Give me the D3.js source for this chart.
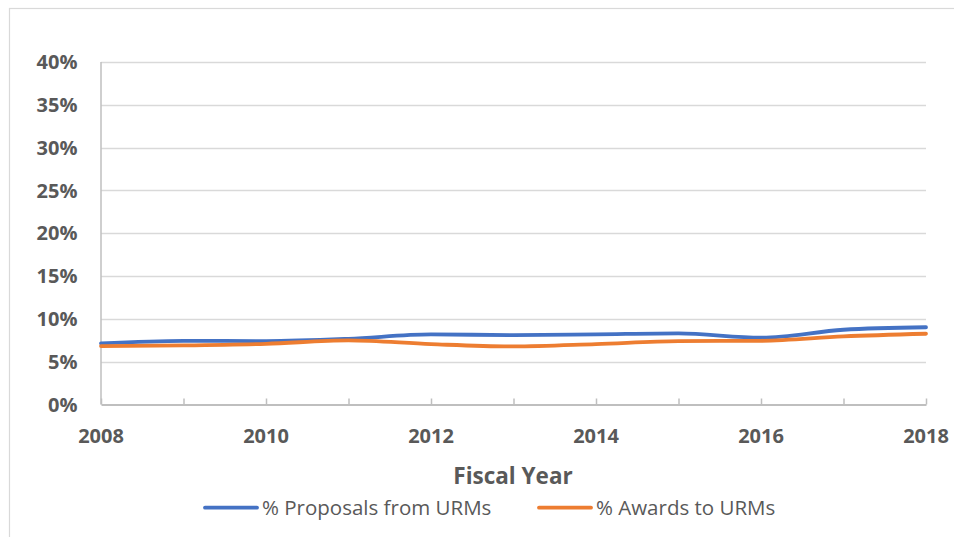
<!DOCTYPE html>
<html>
<head>
<meta charset="utf-8">
<script src="https://cdn.jsdelivr.net/npm/d3@7"></script>
<style>
  html, body { margin: 0; padding: 0; background: #fff; }
  svg { display: block; }
  text { font-family: "Open Sans", "Liberation Sans", sans-serif; }
</style>
</head>
<body>
<svg id="chart" width="954" height="537"></svg>
<script>
// Fiscal years on the x axis
const years = [2008, 2009, 2010, 2011, 2012, 2013, 2014, 2015, 2016, 2017, 2018];
// Share of proposals submitted by under-represented minorities (%)
const proposalsPct = [7.13, 7.44, 7.40, 7.67, 8.19, 8.10, 8.19, 8.30, 7.80, 8.73, 9.02];
// Share of awards made to under-represented minorities (%)
const awardsPct = [6.82, 6.90, 7.09, 7.48, 7.05, 6.78, 7.05, 7.40, 7.44, 7.95, 8.26];
// Axis ticks
const yTicks = [0, 5, 10, 15, 20, 25, 30, 35, 40];
const xTickLabels = [2008, 2010, 2012, 2014, 2016, 2018];
const seriesNames = ["% Proposals from URMs", "% Awards to URMs"];
const seriesColors = ["#4472C4", "#ED7D31"];

const svg = d3.select("#chart");
const plotLeft = 101, plotRight = 926, plotTop = 62, plotBottom = 404.5;
const labelColor = "#595959";

const x = d3.scaleLinear().domain([2008, 2018]).range([plotLeft, plotRight]);
const y = d3.scaleLinear().domain([0, 40]).range([plotBottom, plotTop]);

// chart frame
svg.append("rect")
  .attr("x", 9.5).attr("y", 8.5)
  .attr("width", 1000).attr("height", 600)
  .attr("fill", "#fff").attr("stroke", "#d9d9d9").attr("stroke-width", 1.2);

// horizontal gridlines
svg.append("g")
  .selectAll("line")
  .data(yTicks.filter(d => d > 0))
  .join("line")
  .attr("x1", plotLeft).attr("x2", plotRight)
  .attr("y1", d => Math.round(y(d)) + 0.5).attr("y2", d => Math.round(y(d)) + 0.5)
  .attr("stroke", "#d9d9d9").attr("stroke-width", 1.3);

// y axis labels
svg.append("g")
  .selectAll("text")
  .data(yTicks)
  .join("text")
  .attr("x", 77.5).attr("y", d => y(d) + 7.2)
  .attr("text-anchor", "end")
  .attr("font-size", 20).attr("font-weight", 700)
  .attr("fill", labelColor)
  .text(d => d + "%");

// left value axis line
svg.append("line")
  .attr("x1", plotLeft).attr("x2", plotLeft)
  .attr("y1", plotTop).attr("y2", plotBottom)
  .attr("stroke", "#bfbfbf").attr("stroke-width", 1.5);

// bottom axis with yearly tick marks pointing up
const xAxis = d3.axisBottom(x)
  .tickValues(years)
  .tickSizeInner(-6)
  .tickSizeOuter(0)
  .tickFormat("");
const gx = svg.append("g").attr("transform", `translate(0,${plotBottom})`).call(xAxis);
gx.select(".domain").attr("stroke", "#bfbfbf").attr("stroke-width", 2);
gx.selectAll(".tick line").attr("stroke", "#bfbfbf").attr("stroke-width", 1.5);

// x axis labels
svg.append("g")
  .selectAll("text")
  .data(xTickLabels)
  .join("text")
  .attr("x", d => x(d)).attr("y", 443)
  .attr("text-anchor", "middle")
  .attr("font-size", 20).attr("font-weight", 700)
  .attr("fill", labelColor)
  .text(d => d);

// x axis title
svg.append("text")
  .attr("x", 513).attr("y", 483.5)
  .attr("text-anchor", "middle")
  .attr("font-size", 22.5).attr("font-weight", 700)
  .attr("fill", labelColor)
  .text("Fiscal Year");

// series lines
const line = d3.line()
  .x((d, i) => x(years[i]))
  .y(d => y(d))
  .curve(d3.curveMonotoneX);

[proposalsPct, awardsPct].forEach((vals, k) => {
  svg.append("path")
    .datum(vals)
    .attr("d", line)
    .attr("fill", "none")
    .attr("stroke", seriesColors[k])
    .attr("stroke-width", 3.8)
    .attr("stroke-linejoin", "round")
    .attr("stroke-linecap", "round");
});

// legend
const legendItems = [
  { x: 205, name: seriesNames[0], color: seriesColors[0] },
  { x: 539, name: seriesNames[1], color: seriesColors[1] }
];
const lg = svg.append("g");
legendItems.forEach(it => {
  lg.append("line")
    .attr("x1", it.x).attr("x2", it.x + 52)
    .attr("y1", 507.7).attr("y2", 507.7)
    .attr("stroke", it.color).attr("stroke-width", 3.8)
    .attr("stroke-linecap", "round");
  lg.append("text")
    .attr("x", it.x + 57).attr("y", 515)
    .attr("font-size", 20.5)
    .attr("fill", labelColor)
    .text(it.name);
});
</script>
</body>
</html>
